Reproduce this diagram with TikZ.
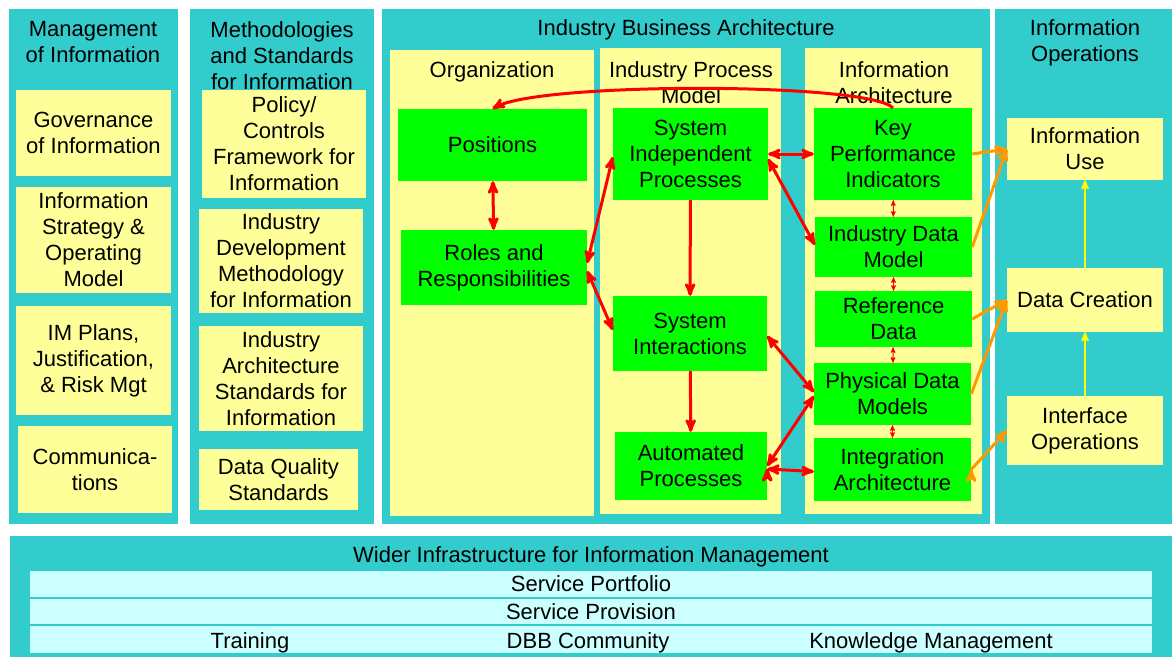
\documentclass[tikz,border=0pt]{standalone}
\usepackage{fontspec}
\setmainfont{Liberation Sans}
\usetikzlibrary{arrows}
\definecolor{panelteal}{HTML}{33CCCC}
\definecolor{paleyellow}{HTML}{FFFF99}
\definecolor{boxgreen}{HTML}{00FF00}
\definecolor{palecyan}{HTML}{CCFFFF}
\definecolor{arrowred}{HTML}{FF0000}
\definecolor{arroworange}{HTML}{FF9900}
\definecolor{arrowyellow}{HTML}{FFFF00}

\begin{document}
\begin{tikzpicture}[x=1pt,y=-1pt,>=stealth',font=\fontsize{22}{26}\selectfont,
	plainbox/.style={inner sep=0pt,align=center},
	ybox/.style={plainbox,fill=paleyellow},
	gbox/.style={plainbox,fill=boxgreen},
	cbox/.style={plainbox,fill=palecyan},
	headtext/.style={align=center,inner sep=0pt,yshift=-2.5pt},
	redlink/.style={draw=arrowred,line width=3pt},
	thinlink/.style={draw=arrowred,line width=1pt,<->},
	feed/.style={draw=arroworange,line width=3pt,->},
	upflow/.style={draw=arrowyellow,line width=2pt,->}]

\useasboundingbox[fill=white] (0,0) rectangle (1173,657);

% panels
\fill[panelteal] (9,9) rectangle (178,524);
\fill[panelteal] (190,9) rectangle (374,524);
\fill[panelteal] (382,9) rectangle (990,524);
\fill[panelteal] (995,9) rectangle (1172,524);
\fill[panelteal] (10,536) rectangle (1172,657);
\fill[paleyellow] (390,50) rectangle (594,516);
\fill[paleyellow] (600,48) rectangle (781,514);
\fill[paleyellow] (805,48) rectangle (982,514);

\node[headtext] (mgmt)   at (93,40)    {Management\\of Information};
\node[headtext] (meth)   at (282,53)   {Methodologies\\and Standards\\for Information};
\node[headtext] (iba)    at (686,27)   {Industry Business Architecture};
\node[headtext] (ops)    at (1085,40)  {Information\\Operations};
\node[headtext] (orgt)   at (492,69)   {Organization};
\node[headtext] (ipmt)   at (691,80)   {Industry Process\\Model};
\node[headtext] (iat)    at (894,80)   {Information\\Architecture};

% management column
\node[ybox,minimum width=155pt,minimum height=86pt]  (gov)   at (93.5,133)   {Governance\\of Information};
\node[ybox,minimum width=155pt,minimum height=106pt] (strat) at (93.5,240)   {Information\\Strategy \&\\Operating\\Model};
\node[ybox,minimum width=155pt,minimum height=109pt] (plans) at (93.5,360.5) {IM Plans,\\Justification,\\\& Risk Mgt};
\node[ybox,minimum width=154pt,minimum height=87pt]  (comm)  at (95,469.5)   {Communica-\\tions};

% methodologies column
\node[ybox,minimum width=164pt,minimum height=108pt] (policy)  at (284,144)   {Policy/\\Controls\\Framework for\\Information};
\node[ybox,minimum width=164pt,minimum height=104pt] (devmeth) at (281,261)   {Industry\\Development\\Methodology\\for Information};
\node[ybox,minimum width=164pt,minimum height=105pt] (archstd) at (281,378.5) {Industry\\Architecture\\Standards for\\Information};
\node[ybox,minimum width=159pt,minimum height=61pt]  (dq)      at (278.5,479.5) {Data Quality\\Standards};

% business architecture
\node[gbox,minimum width=189pt,minimum height=72pt] (pos)   at (492.5,145) {Positions};
\node[gbox,minimum width=186pt,minimum height=75pt] (roles) at (494,267.5) {Roles and\\Responsibilities};
\node[gbox,minimum width=155pt,minimum height=92pt] (sip)   at (690.5,154) {System\\Independent\\Processes};
\node[gbox,minimum width=154pt,minimum height=75pt] (sint)  at (690,333.5) {System\\Interactions};
\node[gbox,minimum width=152pt,minimum height=68pt] (auto)  at (691,466)   {Automated\\Processes};
\node[gbox,minimum width=158pt,minimum height=92pt] (kpi)   at (893,154)   {Key\\Performance\\Indicators};
\node[gbox,minimum width=157pt,minimum height=60pt] (idm)   at (893.5,247) {Industry Data\\Model};
\node[gbox,minimum width=157pt,minimum height=56pt] (ref)   at (893.5,319) {Reference\\Data};
\node[gbox,minimum width=157pt,minimum height=62pt] (pdm)   at (892.5,394) {Physical Data\\Models};
\node[gbox,minimum width=157pt,minimum height=63pt] (integ) at (892.5,469.5) {Integration\\Architecture};

% operations column
\node[ybox,minimum width=156pt,minimum height=62pt] (use)    at (1085,149)   {Information\\Use};
\node[ybox,minimum width=156pt,minimum height=64pt] (create) at (1085,300)   {Data Creation};
\node[ybox,minimum width=156pt,minimum height=69pt] (iface)  at (1085,430.5) {Interface\\Operations};

% infrastructure
\node[headtext] (wider) at (591,554) {Wider Infrastructure for Information Management};
\node[cbox,minimum width=1122pt,minimum height=26pt] (portfolio) at (591,584)   {Service Portfolio};
\node[cbox,minimum width=1122pt,minimum height=25pt] (provision) at (591,611.5) {Service Provision};
\node[cbox,minimum width=1122pt,minimum height=27pt] (community) at (591,639.5) {};
\node[headtext] (train) at (250,640) {Training};
\node[headtext] (dbb)   at (588,640) {DBB Community};
\node[headtext] (know)  at (931,640) {Knowledge Management};

\draw[redlink,->] (kpi.north) .. controls (866,82) and (540,82) .. (pos.north);

\path[redlink,<->] (pos) edge (roles)
		([yshift=4.5pt]roles.east) edge ([yshift=-3pt]sip.west)
		([yshift=-3.5pt]roles.east) edge ([yshift=3.5pt]sint.west)
	(sip.east) edge (kpi.west)
		([yshift=-5pt]sip.east) edge ([yshift=2pt]idm.west)
	([yshift=-2.5pt]sint.east) edge ([yshift=2pt]pdm.west)
	(auto.east) edge ([yshift=-2pt]pdm.west)
		([yshift=-3pt]auto.east) edge ([yshift=-2pt]integ.west);
\path[redlink,->] (sip) edge (sint)
	(sint) edge (auto);
\path[thinlink] (kpi) edge (idm)
	(idm) edge (ref)
	(ref) edge (pdm)
	(pdm) edge (integ);

\path[feed] (kpi.east) edge (use.west)
		(idm.east) edge (use.west)
	(ref.east) edge (create.west)
		(pdm.east) edge (create.west)
	(integ.east) edge (iface.west);
\path[upflow] (create) edge (use)
	(iface) edge (create);

\end{tikzpicture}
\end{document}
